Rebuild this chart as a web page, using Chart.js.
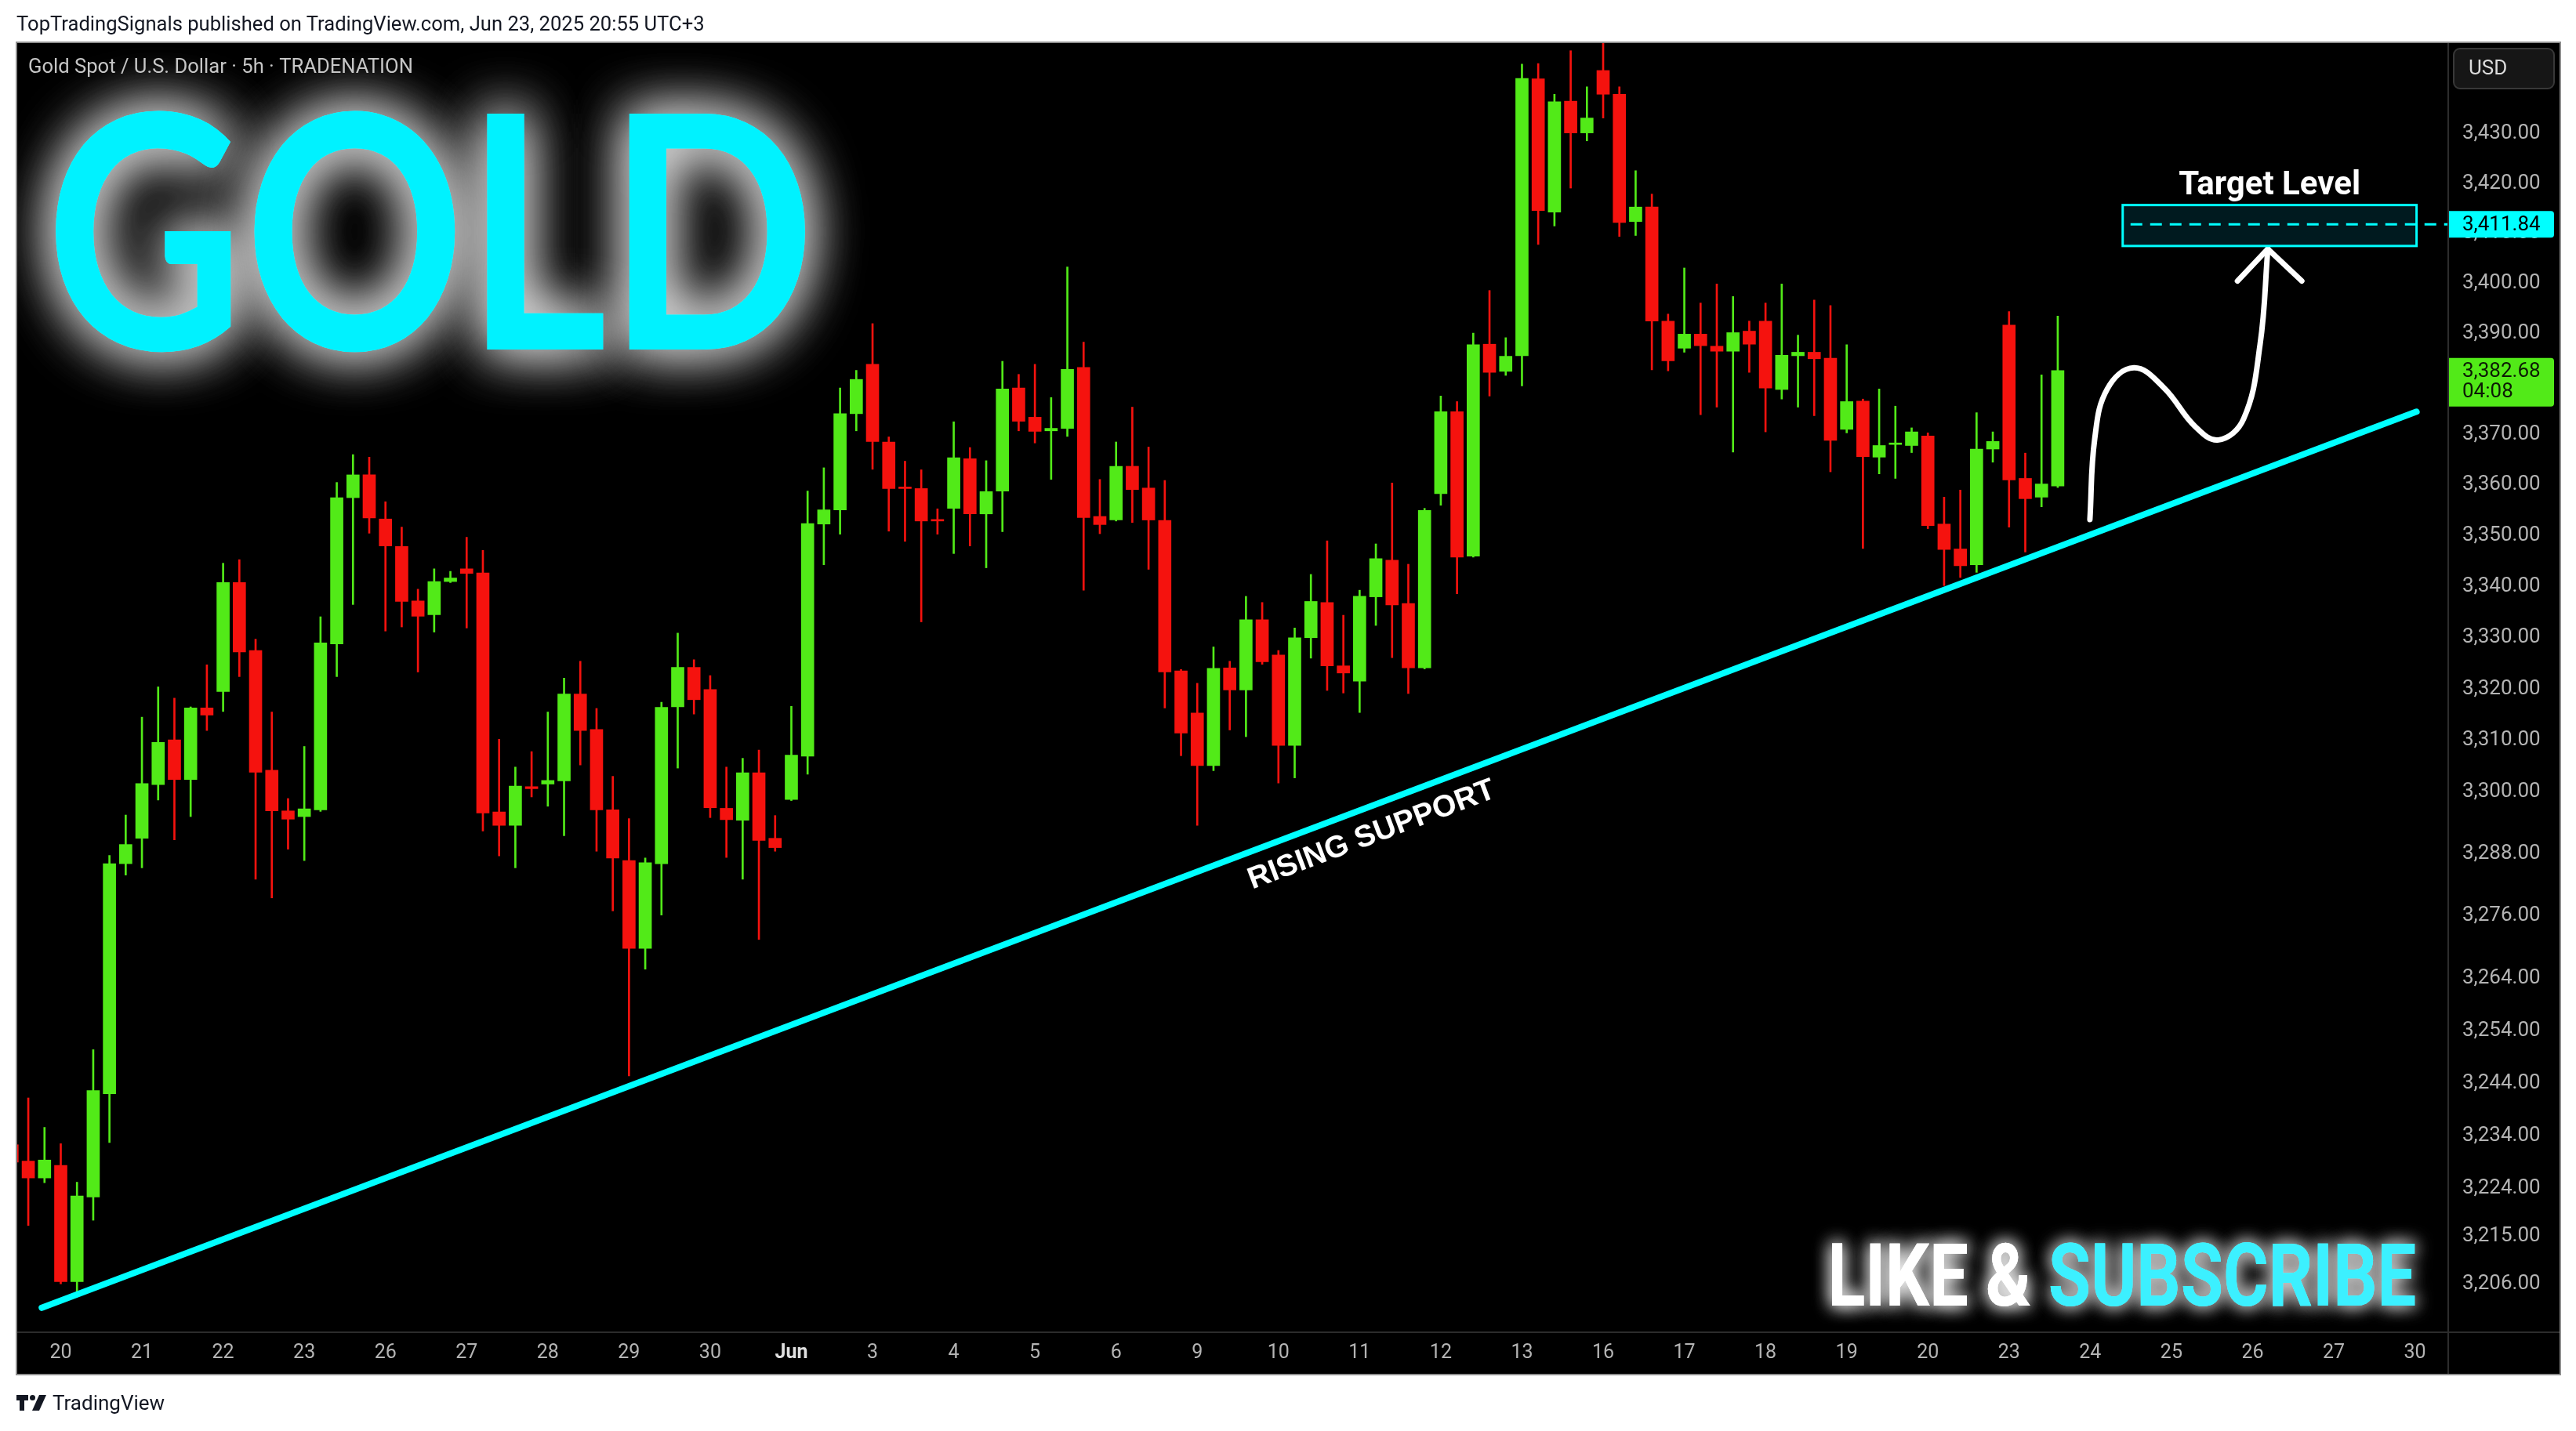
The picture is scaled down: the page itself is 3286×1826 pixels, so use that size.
<!DOCTYPE html>
<html>
<head>
<meta charset="utf-8">
<title>Gold Spot / U.S. Dollar · 5h · TRADENATION</title>
<script src="https://cdn.jsdelivr.net/npm/chart.js@4.4.1/dist/chart.umd.min.js"></script>
<style>
  html, body { margin: 0; padding: 0; background: #ffffff; }
  body { position: relative; width: 3286px; height: 1826px; overflow: hidden; font-family: Roboto, "Noto Sans", sans-serif; }
  #chart { position: absolute; left: 0; top: 0; }
  #header { position: absolute; left: 21px; top: 15px; font-size: 25.6px; line-height: 30px; color: #131722; white-space: nowrap; }
  #footer { position: absolute; left: 21px; top: 1774px; font-size: 26px; line-height: 32px; color: #131722; display: flex; align-items: center; gap: 8px; }
</style>
</head>
<body>
<canvas id="chart" width="3286" height="1826"></canvas>
<div id="header">TopTradingSignals published on TradingView.com, Jun 23, 2025 20:55 UTC+3</div>
<div id="footer"><svg width="38" height="20" viewBox="0 0 38 20"><path d="M0 0h15v7H10v13H4V7H0z" fill="#131722"/><circle cx="20.5" cy="3.5" r="3.5" fill="#131722"/><path d="M29 0h9L29 20h-9z" fill="#131722"/></svg><span>TradingView</span></div>
<script>
// XAUUSD 5h candles, bar 0 = first bar of May 20, 5 bars per trading day
const firstBar = -3;
const opens = [3232.3, 3229.2, 3226.0, 3228.4, 3206.4, 3222.4, 3242.0, 3286.1, 3291.0, 3301.4,
  3310.1, 3302.4, 3316.3, 3319.5, 3340.8, 3327.5, 3304.2, 3296.3, 3295.2, 3296.5,
  3328.8, 3357.5, 3362.0, 3353.3, 3347.9, 3337.2, 3334.5, 3341.0, 3343.5, 3342.7,
  3296.1, 3293.5, 3301.0, 3301.5, 3302.1, 3319.0, 3312.1, 3296.5, 3286.7, 3269.8,
  3286.1, 3316.5, 3324.2, 3319.9, 3296.8, 3294.5, 3303.7, 3291.0, 3298.5, 3306.9,
  3352.3, 3355.1, 3374.1, 3383.9, 3368.5, 3359.6, 3359.3, 3353.2, 3355.4, 3365.2,
  3354.3, 3358.8, 3379.2, 3373.4, 3370.7, 3371.2, 3383.3, 3353.8, 3353.1, 3363.7,
  3359.4, 3353.0, 3323.5, 3315.3, 3305.1, 3324.1, 3319.8, 3333.5, 3326.6, 3309.0,
  3330.0, 3336.9, 3324.5, 3321.5, 3338.0, 3345.2, 3336.7, 3324.1, 3358.3, 3374.5,
  3346.0, 3387.9, 3382.5, 3385.6, 3441.1, 3414.3, 3436.6, 3430.2, 3442.8, 3438.0,
  3412.4, 3415.3, 3392.5, 3387.1, 3389.9, 3387.5, 3386.5, 3390.5, 3392.5, 3378.9,
  3385.6, 3386.3, 3385.1, 3371.0, 3376.6, 3365.5, 3368.0, 3367.8, 3369.7, 3352.3,
  3347.4, 3344.3, 3367.1, 3391.7, 3361.3, 3357.6, 3359.8];
const highs = [3236.0, 3241.2, 3235.6, 3232.5, 3225.2, 3250.4, 3287.7, 3295.5, 3314.5, 3320.4,
  3318.2, 3316.5, 3324.7, 3344.6, 3345.3, 3329.7, 3315.5, 3298.7, 3308.8, 3334.1,
  3360.5, 3366.0, 3365.5, 3356.7, 3351.7, 3339.5, 3343.5, 3343.0, 3349.7, 3347.1,
  3310.2, 3304.8, 3307.8, 3315.5, 3322.1, 3325.4, 3316.2, 3303.0, 3294.8, 3287.2,
  3317.4, 3330.9, 3325.7, 3322.6, 3304.8, 3306.5, 3308.1, 3295.4, 3316.6, 3358.8,
  3363.4, 3379.2, 3382.7, 3392.0, 3369.5, 3364.7, 3363.0, 3355.3, 3372.5, 3367.4,
  3364.8, 3384.5, 3381.9, 3383.9, 3377.3, 3403.3, 3388.3, 3361.1, 3368.5, 3375.4,
  3367.5, 3360.9, 3323.8, 3321.1, 3328.2, 3325.4, 3338.1, 3336.9, 3327.5, 3331.9,
  3342.4, 3349.0, 3334.4, 3339.3, 3348.4, 3360.4, 3344.4, 3355.4, 3377.6, 3376.5,
  3390.1, 3398.6, 3389.2, 3444.1, 3444.2, 3438.0, 3446.8, 3439.5, 3452.0, 3439.5,
  3422.6, 3417.9, 3393.9, 3403.1, 3396.1, 3399.9, 3397.4, 3392.5, 3396.1, 3399.9,
  3389.7, 3396.7, 3395.6, 3387.8, 3377.0, 3379.0, 3375.6, 3371.3, 3370.3, 3357.6,
  3359.0, 3374.3, 3370.5, 3394.4, 3366.3, 3381.8, 3393.5];
const lows = [3226.0, 3217.0, 3225.1, 3206.0, 3204.5, 3218.0, 3232.7, 3283.9, 3285.3, 3298.4,
  3290.7, 3295.2, 3311.9, 3315.6, 3322.4, 3283.1, 3279.5, 3288.9, 3286.7, 3296.2,
  3322.4, 3336.5, 3350.5, 3331.3, 3332.1, 3323.3, 3331.1, 3340.8, 3331.9, 3292.4,
  3287.6, 3285.3, 3299.0, 3297.2, 3291.5, 3305.2, 3288.5, 3277.0, 3245.4, 3265.8,
  3276.2, 3304.6, 3315.1, 3295.0, 3287.3, 3283.1, 3271.5, 3288.5, 3298.3, 3303.4,
  3344.3, 3350.3, 3370.7, 3363.1, 3350.9, 3348.9, 3333.1, 3350.3, 3346.5, 3348.0,
  3343.7, 3350.8, 3370.7, 3368.3, 3361.1, 3369.6, 3339.3, 3350.4, 3352.9, 3352.6,
  3343.4, 3316.3, 3307.0, 3293.5, 3304.1, 3312.0, 3310.7, 3324.8, 3301.7, 3302.7,
  3326.0, 3319.7, 3319.2, 3315.4, 3332.4, 3326.1, 3319.1, 3323.9, 3356.0, 3338.6,
  3345.8, 3377.6, 3381.7, 3379.6, 3407.8, 3411.5, 3419.1, 3428.6, 3433.2, 3409.4,
  3409.6, 3382.8, 3382.6, 3386.3, 3373.9, 3375.4, 3366.5, 3382.3, 3370.5, 3377.0,
  3375.4, 3373.7, 3362.6, 3370.3, 3347.5, 3362.2, 3361.3, 3366.4, 3351.4, 3340.2,
  3341.8, 3342.8, 3364.5, 3351.7, 3346.8, 3355.7, 3359.5];
const closes = [3229.0, 3226.0, 3229.4, 3206.4, 3222.6, 3242.6, 3286.1, 3289.8, 3301.6, 3309.6,
  3302.4, 3316.3, 3314.9, 3340.8, 3327.2, 3303.8, 3296.3, 3294.7, 3296.7, 3329.0,
  3357.5, 3362.0, 3353.5, 3348.0, 3337.1, 3334.2, 3341.0, 3341.7, 3342.6, 3295.9,
  3293.5, 3301.1, 3300.6, 3302.2, 3319.0, 3311.9, 3296.5, 3287.2, 3269.8, 3286.3,
  3316.4, 3324.2, 3317.9, 3296.9, 3294.6, 3303.7, 3290.6, 3289.2, 3307.1, 3352.4,
  3355.1, 3374.1, 3380.9, 3368.6, 3359.3, 3359.3, 3352.9, 3352.9, 3365.4, 3354.3,
  3358.7, 3379.0, 3372.6, 3370.6, 3371.2, 3382.9, 3353.6, 3352.2, 3363.7, 3359.1,
  3353.1, 3323.3, 3311.4, 3305.1, 3324.0, 3319.8, 3333.5, 3325.3, 3309.0, 3330.0,
  3337.1, 3324.5, 3323.1, 3338.1, 3345.5, 3336.4, 3324.1, 3355.0, 3374.5, 3345.8,
  3387.8, 3382.3, 3385.5, 3441.2, 3414.6, 3436.5, 3430.2, 3433.2, 3438.0, 3412.2,
  3415.3, 3392.5, 3384.6, 3389.9, 3387.6, 3386.5, 3390.2, 3387.9, 3379.2, 3385.7,
  3386.3, 3385.0, 3368.8, 3376.5, 3365.6, 3367.8, 3368.3, 3370.5, 3352.0, 3347.3,
  3344.1, 3367.1, 3368.6, 3361.0, 3357.3, 3360.2, 3382.68];

const dayLabels = ['20', '21', '22', '23', '26', '27', '28', '29', '30', 'Jun', '3', '4', '5', '6', '9',
  '10', '11', '12', '13', '16', '17', '18', '19', '20', '23', '24', '25', '26', '27', '30'];
const barsPerDay = 5;
const priceTicks = [3206, 3215, 3224, 3234, 3244, 3254, 3264, 3276, 3288, 3300, 3310, 3320,
  3330, 3340, 3350, 3360, 3370, 3380, 3390, 3400, 3410, 3420, 3430];

const lastPrice = 3382.68;
const countdown = '04:08';
const targetPrice = 3411.84;

// drawings, given as (bar, price)
const supportBars = [-1.17, 145.1];
const supportPrices = [3201.5, 3374.5];
const supportLabelAt = [80.75, 3291.6];
const targetBoxBars = [127.0, 145.1];
const targetBoxPrices = [3407.5, 3415.7];
const pathBars = [124.98, 125.28, 126.05, 127.69, 129.52, 131.45, 132.9, 134.45, 135.46, 135.94];
const pathPrices = [3353.2, 3369.2, 3379.0, 3383.2, 3379.3, 3371.6, 3368.9, 3373.1, 3387.8, 3406.9];
const headBars = [134.07, 135.94, 138.03];
const headPrices = [3400.5, 3406.9, 3400.5];

const UP = '#52ea18';
const DOWN = '#f5120e';
const CYAN = '#00ffff';
const FONT = 'Roboto, "Noto Sans", sans-serif';
const AXIS_FONT = 26;

const bars = opens.map((_, i) => i + firstBar);
const candleColors = opens.map((o, i) => closes[i] >= o ? UP : DOWN);
const fmt = v => v.toLocaleString('en-US', { minimumFractionDigits: 2, maximumFractionDigits: 2 });
const pts = (xs, ys) => xs.map((x, i) => ({ x: x, y: ys[i] }));

// text stretched to an ink box: left, right, baseline, cap height
function glowText(c, parts, left, right, baseline, capH, weight, family) {
  c.save();
  c.font = weight + ' 100px ' + family;
  const ratio = c.measureText('H').actualBoundingBoxAscent / 100;
  const size = capH / ratio;
  c.font = weight + ' ' + size + 'px ' + family;
  const full = parts.map(p => p.text).join('');
  const m = c.measureText(full);
  const sx = (right - left) / (m.actualBoundingBoxLeft + m.actualBoundingBoxRight);
  let x = left + m.actualBoundingBoxLeft * sx;
  c.textAlign = 'left';
  c.textBaseline = 'alphabetic';
  parts.forEach(p => {
    c.save();
    c.translate(x, baseline);
    c.scale(sx, 1);
    c.shadowColor = p.glow;
    c.shadowBlur = p.blur;
    c.fillStyle = p.color;
    for (let k = 0; k < p.passes; k++) c.fillText(p.text, 0, 0);
    c.restore();
    x += c.measureText(p.text).width * sx;
  });
  c.restore();
}

const tvPanel = {
  id: 'tvPanel',
  beforeDraw(chart) {
    const c = chart.ctx;
    c.save();
    c.fillStyle = '#000';
    c.fillRect(21, 54, 3245, 1700);
    c.restore();
  },
  beforeDatasetsDraw(chart) {
    const c = chart.ctx;
    glowText(c, [{ text: 'GOLD', color: '#00f2ff', glow: 'rgba(255,255,255,0.85)', blur: 70, passes: 2 }],
      69, 1031, 446, 304, 'bold', 'Lato');
  },
  afterDatasetsDraw(chart) {
    const c = chart.ctx;
    const xs = chart.scales.x, ys = chart.scales.y;
    const area = chart.chartArea;

    // label under the support line
    const ax = xs.getPixelForValue(supportBars[0]), ay = ys.getPixelForValue(supportPrices[0]);
    const bx = xs.getPixelForValue(supportBars[1]), by = ys.getPixelForValue(supportPrices[1]);
    c.save();
    c.translate(xs.getPixelForValue(supportLabelAt[0]), ys.getPixelForValue(supportLabelAt[1]));
    c.rotate(Math.atan2(by - ay, bx - ax));
    c.font = 'bold 39px "Liberation Sans", Arial, sans-serif';
    c.fillStyle = '#ffffff';
    c.textAlign = 'center';
    c.textBaseline = 'middle';
    c.fillText('RISING SUPPORT', 0, 0);
    c.restore();

    // target level box
    const x0 = xs.getPixelForValue(targetBoxBars[0]), x1 = xs.getPixelForValue(targetBoxBars[1]);
    const y0 = ys.getPixelForValue(targetBoxPrices[1]), y1 = ys.getPixelForValue(targetBoxPrices[0]);
    const ty = ys.getPixelForValue(targetPrice);
    c.save();
    c.fillStyle = 'rgba(0, 200, 240, 0.13)';
    c.fillRect(x0, y0, x1 - x0, y1 - y0);
    c.strokeStyle = CYAN;
    c.lineWidth = 3;
    c.strokeRect(x0, y0, x1 - x0, y1 - y0);
    c.setLineDash([15, 10]);
    c.beginPath();
    c.moveTo(x0 + 10, ty);
    c.lineTo(area.right, ty);
    c.stroke();
    c.setLineDash([]);
    c.font = 'bold 42px ' + FONT;
    c.fillStyle = '#ffffff';
    c.textAlign = 'center';
    c.textBaseline = 'middle';
    c.fillText('Target Level', (x0 + x1) / 2, y0 - 24);
    c.restore();

    glowText(c, [
      { text: 'LIKE & ', color: '#ffffff', glow: 'rgba(255,255,255,0.9)', blur: 22, passes: 2 },
      { text: 'SUBSCRIBE', color: '#3cf0ff', glow: 'rgba(255,255,255,0.75)', blur: 22, passes: 2 }
    ], 2337, 3081, 1666, 80, 'bold', FONT);
  },
  afterDraw(chart) {
    const c = chart.ctx;
    const ys = chart.scales.y;
    const area = chart.chartArea;
    c.save();
    // pane separators and frame
    c.strokeStyle = '#2c2c2c';
    c.lineWidth = 2;
    c.beginPath();
    c.moveTo(area.right, 54); c.lineTo(area.right, 1754);
    c.moveTo(21, area.bottom); c.lineTo(3266, area.bottom);
    c.stroke();
    c.strokeStyle = '#8e8e8e';
    c.strokeRect(21, 54, 3245, 1700);

    // symbol legend
    c.font = '25.6px ' + FONT;
    c.fillStyle = '#c6c6c6';
    c.textAlign = 'left';
    c.textBaseline = 'middle';
    c.fillText('Gold Spot / U.S. Dollar · 5h · TRADENATION', 36, 87);

    // currency button
    c.font = AXIS_FONT + 'px ' + FONT;
    c.beginPath();
    c.roundRect(3130, 62, 128, 51, 8);
    c.fillStyle = '#161616';
    c.fill();
    c.strokeStyle = '#383838';
    c.stroke();
    c.fillStyle = '#dcdcdc';
    c.fillText('USD', 3149, 88);

    // target price label
    const ty = ys.getPixelForValue(targetPrice);
    c.beginPath();
    c.roundRect(area.right + 1, ty - 17, 134, 34, [0, 4, 4, 0]);
    c.fillStyle = CYAN;
    c.fill();
    c.fillStyle = '#000';
    c.fillText(fmt(targetPrice), 3141, ty + 1);

    // last price label
    const ly = ys.getPixelForValue(lastPrice);
    c.beginPath();
    c.roundRect(area.right + 1, ly - 16, 134, 62, [0, 4, 4, 0]);
    c.fillStyle = UP;
    c.fill();
    c.fillStyle = '#0c1a05';
    c.fillText(fmt(lastPrice), 3141, ly + 2);
    c.fillText(countdown, 3141, ly + 28);
    c.restore();
  }
};

Chart.defaults.font.family = FONT;

new Chart(document.getElementById('chart').getContext('2d'), {
  type: 'bar',
  data: {
    datasets: [
      { type: 'line', data: pts(pathBars, pathPrices), borderColor: '#ffffff', borderWidth: 7, tension: 0.4,
        pointRadius: 0, borderCapStyle: 'round', borderJoinStyle: 'round', order: 0 },
      { type: 'line', data: pts(headBars, headPrices), borderColor: '#ffffff', borderWidth: 7, tension: 0,
        pointRadius: 0, borderCapStyle: 'round', borderJoinStyle: 'round', order: 0 },
      { type: 'line', data: pts(supportBars, supportPrices), borderColor: CYAN, borderWidth: 8, tension: 0,
        pointRadius: 0, borderCapStyle: 'round', order: 1 },
      { label: 'body', data: bars.map((x, i) => ({ x: x, y: [opens[i], closes[i]] })),
        backgroundColor: candleColors, barThickness: 16, minBarLength: 2, grouped: false, borderWidth: 0, order: 2 },
      { label: 'wick', data: bars.map((x, i) => ({ x: x, y: [lows[i], highs[i]] })),
        backgroundColor: candleColors, barThickness: 2, grouped: false, borderWidth: 0, order: 3 }
    ]
  },
  options: {
    responsive: false,
    animation: false,
    devicePixelRatio: 1,
    events: [],
    layout: { padding: { left: 21, top: 54, right: 20, bottom: 72 } },
    plugins: { legend: { display: false }, tooltip: { enabled: false } },
    scales: {
      x: {
        type: 'linear', min: -2.728, max: 147.05, bounds: 'data', offset: false,
        grid: { display: false, drawTicks: false }, border: { display: false },
        afterBuildTicks: s => { s.ticks = dayLabels.map((_, d) => ({ value: d * barsPerDay })); },
        afterFit: s => { s.height = 54; },
        ticks: {
          autoSkip: false, maxRotation: 0, padding: 12,
          callback: v => dayLabels[Math.round(v / barsPerDay)],
          color: ctx => ctx.index === 9 ? '#e0e0e0' : '#b4b4b4',
          font: ctx => ({ size: 25, weight: ctx.index === 9 ? 'bold' : 'normal' })
        }
      },
      y: {
        type: 'logarithmic', position: 'right', min: 3196.9, max: 3448.5, bounds: 'data',
        grid: { display: false, drawTicks: false }, border: { display: false },
        afterBuildTicks: s => { s.ticks = priceTicks.map(v => ({ value: v })); },
        afterFit: s => { s.width = 143; },
        ticks: { autoSkip: false, padding: 18, color: '#b4b4b4', font: { size: AXIS_FONT }, callback: v => fmt(v) }
      }
    }
  },
  plugins: [tvPanel]
});
</script>
</body>
</html>
